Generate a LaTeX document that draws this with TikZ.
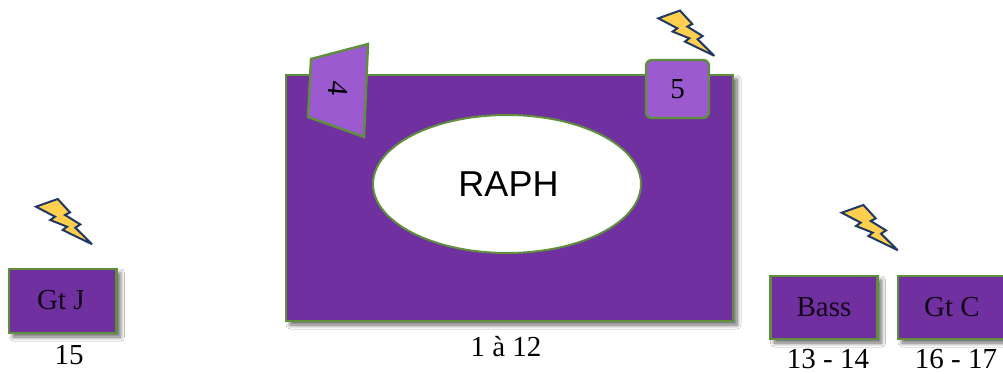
\documentclass[tikz,border=0pt]{standalone}
\usepackage{fontspec}
\setmainfont{Liberation Serif}
\newfontfamily\arialfont{Liberation Sans}
\usetikzlibrary{shadows.blur,shapes.geometric}
\definecolor{deep}{HTML}{7030A0}
\definecolor{lite}{HTML}{9B5ACF}
\definecolor{edge}{HTML}{5F8F3C}
\definecolor{bolty}{HTML}{FFCF4D}
\definecolor{boltn}{HTML}{1F3864}
\tikzset{
  soft/.style={blur shadow={shadow xshift=4pt,shadow yshift=-4pt,shadow blur steps=8,shadow blur radius=4pt,shadow opacity=60}},
  panel/.style={draw=edge,line width=2.4pt,fill=deep,soft},
  tabbox/.style={draw=edge,line width=2.4pt,fill=lite},
  tag/.style={font=\fontsize{29}{31}\selectfont,text=black,inner sep=0pt},
  inlabel/.style={font=\fontsize{29}{31}\selectfont,text=black!85!deep,inner sep=0pt},
  bolt/.style={draw=boltn,line width=2pt,fill=bolty,line join=miter,miter limit=4}
}
\newcommand{\boltat}[2]{%
  \draw[bolt,shift={(#1,#2)}] (0,0) -- (21.7,-7.7) -- (34,5.7) -- (29,8.3) -- (44.3,17.7) -- (39.3,21) -- (56,37.5) -- (26.7,23.3) -- (31,20) -- (14.3,13.3) -- (19,10) -- cycle;}
\begin{document}
\begin{tikzpicture}[x=1pt,y=-1pt]
\useasboundingbox (0,0) rectangle (1003,374);
\fill[white] (0,0) rectangle (1003,374);
% main stage
\draw[panel] (286,75) rectangle (733,321);
\node[draw=edge,line width=2pt,fill=white,ellipse,minimum width=268pt,minimum height=138pt,inner sep=0pt,
      font=\arialfont\fontsize{36}{38}\selectfont] (raph) at (507,184) {\hspace*{3pt}RAPH};
\path[tabbox] (311,59) -- (368,44) -- (364,137) -- (308,117) -- cycle;
\node[tag,rotate=-95] (four) at (338,89) {4};
\node[tabbox,rounded corners=6pt,minimum width=63pt,minimum height=58pt,inner sep=0pt,
      font=\fontsize{29}{31}\selectfont] (five) at (677.5,89) {5};
\node[tag] (main) at (506,347) {1 à 12};
% side boxes
\draw[panel] (9,269) rectangle (116.5,333);
\node[inlabel] (gtj) at (61,300) {Gt J};
\node[tag] (n15) at (69,355) {15};
\draw[panel] (770.5,276) rectangle (877.5,339);
\node[inlabel] (bass) at (824,307) {Bass};
\node[tag] (n13) at (828,359) {13 - 14};
\draw[panel] (898,276) rectangle (1010,339);
\node[inlabel] (gtc) at (952,307) {Gt C};
\node[tag] (n16) at (956,359) {16 - 17};
% bolts
\boltat{658.3}{18.3}
\boltat{36}{206.7}
\boltat{841.7}{212.7}
\end{tikzpicture}
\end{document}
